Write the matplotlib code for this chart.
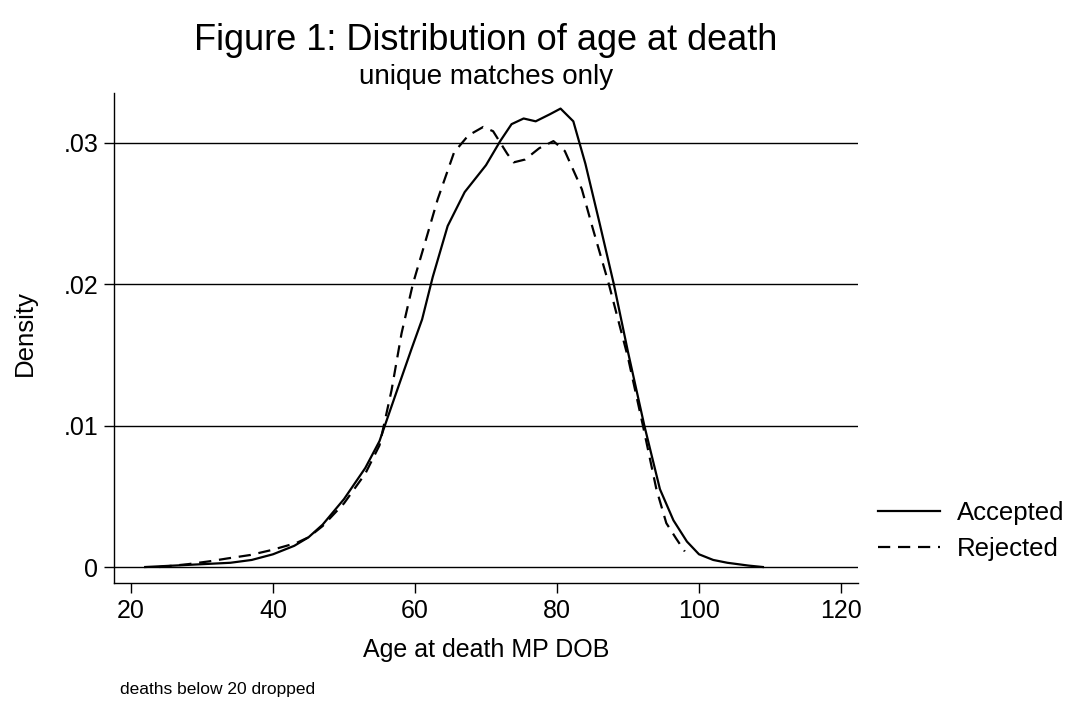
import numpy as np
import matplotlib.pyplot as plt

plt.rcParams['font.family'] = ['Liberation Sans', 'DejaVu Sans']

# Accepted (solid)
acc_age = [22, 26, 30, 34, 37, 40, 43, 45, 47, 50, 53, 55, 57, 59.5, 61, 62.5,
           64.6, 67, 70, 72, 73.6, 75.3, 77, 79, 80.5, 82.3, 84, 86, 88, 90,
           92.3, 94.5, 96.4, 98.3, 100, 102, 104, 107, 109]
acc_den = [0, 0.0001, 0.0002, 0.0003, 0.0005, 0.0009, 0.0015, 0.0021, 0.003,
           0.0048, 0.007, 0.0089, 0.0118, 0.0154, 0.0175, 0.0205, 0.0241,
           0.0265, 0.0284, 0.0301, 0.0313, 0.0317, 0.0315, 0.0320, 0.0324,
           0.0315, 0.0285, 0.0243, 0.020, 0.0152, 0.0100, 0.0055, 0.0033,
           0.0018, 0.0009, 0.0005, 0.0003, 0.0001, 0.0]

# Rejected (dashed)
rej_age = [24, 28, 31, 33.5, 36.8, 39.8, 43.3, 45, 47, 50, 53, 55, 56.7, 58.1,
           59.7, 61.4, 63.2, 65.5, 67.5, 69.6, 71, 72, 73, 73.9, 75.5, 77.5,
           79.5, 81.1, 83.5, 85, 87.3, 90, 92.1, 94, 95.4, 96.8, 98]
rej_den = [0, 0.0002, 0.0004, 0.0006, 0.00085, 0.0012, 0.0017, 0.0021, 0.0029,
           0.0045, 0.0066, 0.0086, 0.0125, 0.0165, 0.020, 0.0229, 0.026,
           0.0293, 0.0305, 0.0311, 0.0308, 0.0300, 0.0292, 0.0286, 0.0288,
           0.0296, 0.0301, 0.0294, 0.0267, 0.0240, 0.020, 0.0148, 0.010,
           0.0055, 0.0031, 0.0020, 0.0011]

xticks = [20, 40, 60, 80, 100, 120]
yticks = [0, 0.01, 0.02, 0.03]
ylabels = ['0', '.01', '.02', '.03']

fig = plt.figure(figsize=(10.7, 7.09), dpi=100)
ax = fig.add_axes([0.1065, 0.1777, 0.8019 - 0.1065, 0.8688 - 0.1777])

for y in yticks:
    ax.axhline(y, color='black', lw=1.0, zorder=1)

l1, = ax.plot(acc_age, acc_den, color='black', lw=1.6, label='Accepted', zorder=3)
l2, = ax.plot(rej_age, rej_den, color='black', lw=1.6, dashes=(5.5, 3.5),
              label='Rejected', zorder=3)

ax.set_xlim(17.6, 122.4)
ax.set_ylim(-0.00113, 0.0335)
ax.set_xticks(xticks)
ax.set_yticks(yticks)
ax.set_yticklabels(ylabels)
ax.tick_params(direction='out', length=7.2, width=1, labelsize=18, colors='black')
ax.tick_params(axis='x', pad=4)
ax.tick_params(axis='y', pad=4)
for s in ['top', 'right']:
    ax.spines[s].set_visible(False)
for s in ['left', 'bottom']:
    ax.spines[s].set_linewidth(1.0)

ax.set_xlabel('Age at death MP DOB', fontsize=18)
ax.set_ylabel('Density', fontsize=18.5)
ax.xaxis.set_label_coords(0.5, -0.112)
ax.yaxis.set_label_coords(-0.104, 0.51)

fig.text(0.454, 0.930, 'Figure 1: Distribution of age at death', ha='center',
         va='baseline', fontsize=26)
fig.text(0.454, 0.881, 'unique matches only', ha='center', va='baseline', fontsize=20)
fig.text(0.112, 0.027, 'deaths below 20 dropped', ha='left', va='center', fontsize=12.5)

fig.legend(handles=[l1, l2], loc='center left', bbox_to_anchor=(0.799, 0.251),
           frameon=False, fontsize=18.5, handlelength=2.4, labelspacing=0.45,
           handletextpad=0.66)

fig.savefig('out.png', dpi=100)
